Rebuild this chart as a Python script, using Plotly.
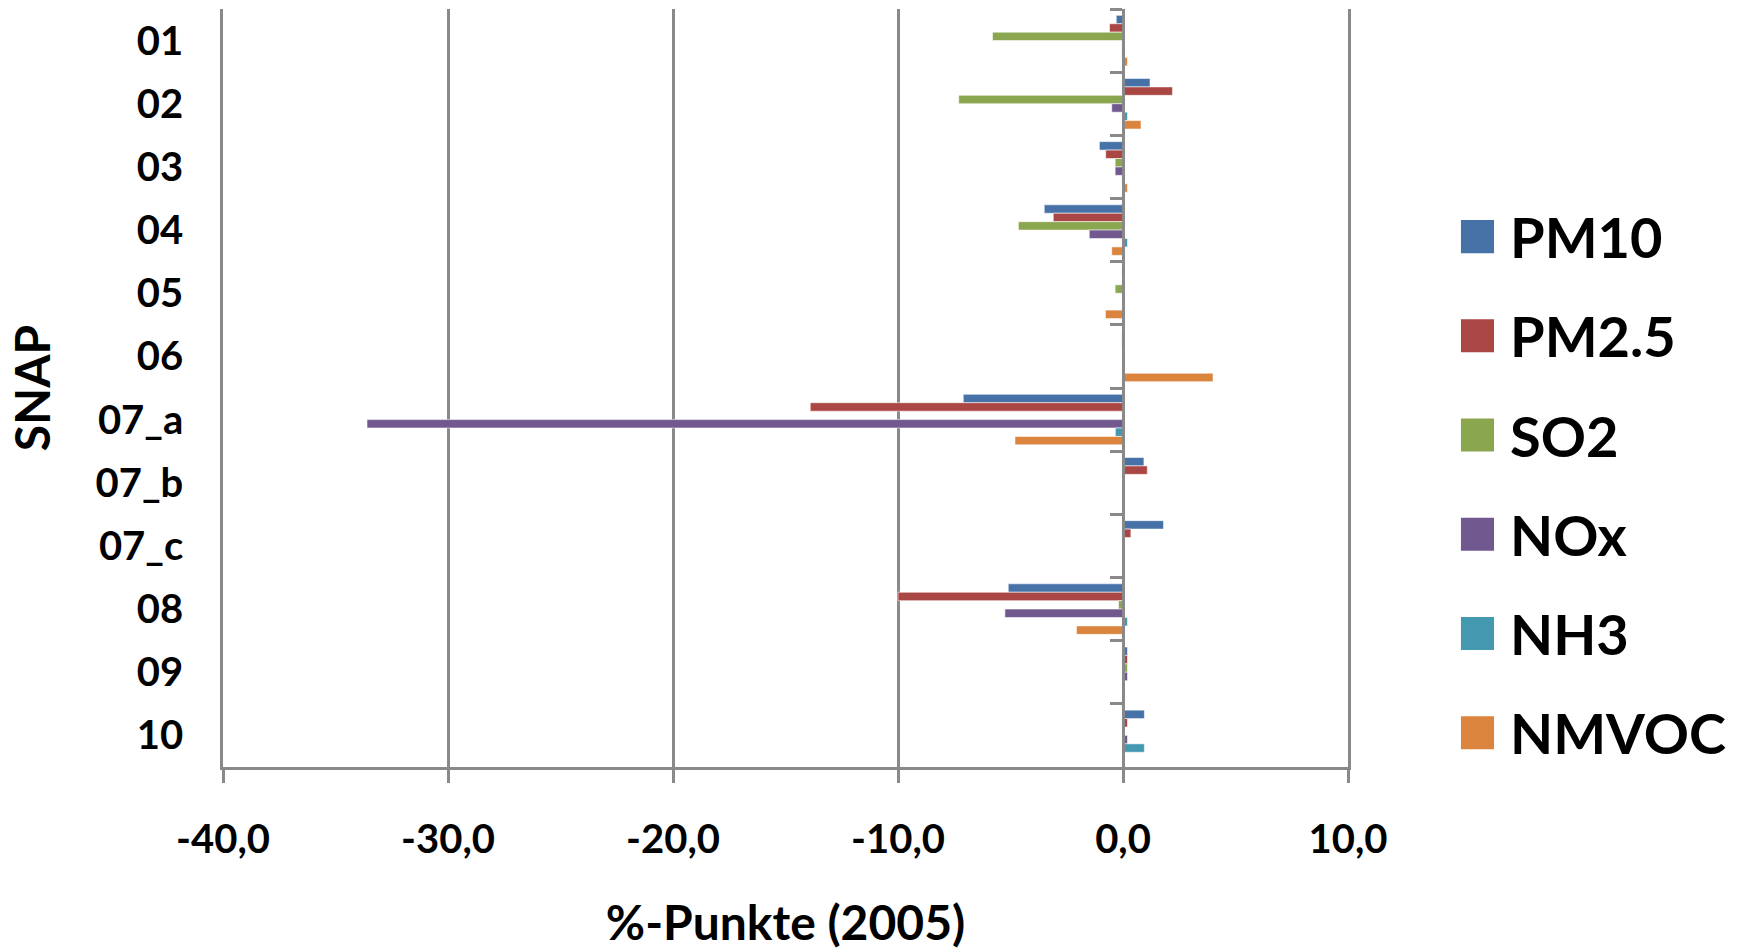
import plotly.graph_objects as go

categories = ["01", "02", "03", "04", "05", "06", "07_a", "07_b", "07_c", "08", "09", "10"]
series_names = ["PM10", "PM2.5", "SO2", "NOx", "NH3", "NMVOC"]
pm10 = [-0.3, 1.2, -1.05, -3.5, -0.05, -0.05, -7.1, 0.93, 1.8, -5.1, 0.2, 0.95]
pm25 = [-0.6, 2.2, -0.77, -3.1, -0.03, -0.05, -13.9, 1.08, 0.35, -10.0, 0.2, 0.2]
so2 = [-5.8, -7.3, -0.35, -4.65, -0.35, 0.0, 0.0, 0.0, 0.0, -0.2, 0.2, 0.0]
nox = [-0.05, -0.5, -0.35, -1.5, 0.0, 0.0, -33.6, 0.0, 0.0, -5.25, 0.2, 0.2]
nh3 = [-0.05, 0.2, -0.05, 0.2, 0.0, 0.0, -0.34, 0.0, 0.0, 0.2, 0.0, 0.95]
nmvoc = [0.2, 0.8, 0.2, -0.5, -0.78, 4.0, -4.8, 0.0, 0.0, -2.07, 0.0, 0.0]
series_values = [pm10, pm25, so2, nox, nh3, nmvoc]
colors = ["#4672A8", "#AA4644", "#8AA64F", "#71598F", "#4499B1", "#DB843D"]
x_tick_vals = [-40, -30, -20, -10, 0, 10]
x_tick_text = ["-40,0", "-30,0", "-20,0", "-10,0", "0,0", "10,0"]

FONT = "Lato"
GRID = "#898989"

fig = go.Figure()
for name, vals, col in zip(series_names, series_values, colors):
    fig.add_trace(go.Bar(
        y=categories, x=vals, name=name, orientation="h",
        marker=dict(color=col, line=dict(color="rgba(255,255,255,0.55)", width=1)),
        showlegend=False,
    ))

# invisible helper trace for the category axis drawn at x = 0
fig.add_trace(go.Scatter(
    x=[0] * len(categories), y=categories, yaxis="y2", mode="markers",
    marker=dict(opacity=0), hoverinfo="skip", showlegend=False,
))

n = len(categories)
fig.update_layout(
    width=1741, height=952,
    margin=dict(l=223, r=393, t=9, b=185),
    paper_bgcolor="white", plot_bgcolor="white",
    barmode="group", bargap=0.2, bargroupgap=0.0,
    font=dict(family=FONT, color="black"),
    xaxis=dict(
        range=[-40, 10], tickvals=x_tick_vals, ticktext=x_tick_text,
        showgrid=True, gridcolor=GRID, gridwidth=2.5, zeroline=False,
        showline=True, linecolor=GRID, linewidth=3,
        ticks="outside", ticklen=13, tickwidth=2.5, tickcolor=GRID,
        tickfont=dict(family=FONT, size=40, color="black", weight="bold"),
        ticklabelstandoff=22,
        title=dict(text="%-Punkte (2005)", standoff=46,
                   font=dict(family=FONT, size=48, color="black", weight="bold")),
    ),
    yaxis=dict(
        type="category", categoryorder="array", categoryarray=categories,
        range=[n - 0.5, -0.5], showgrid=False, zeroline=False,
        showline=True, mirror=True, linecolor=GRID, linewidth=2.5,
        ticks="", ticklabelstandoff=29,
        tickfont=dict(family=FONT, size=40, color="black", weight="bold"),
        title=dict(text="SNAP", standoff=30,
                   font=dict(family=FONT, size=48, color="black", weight="bold")),
    ),
    yaxis2=dict(
        type="category", categoryorder="array", categoryarray=categories,
        range=[n - 0.5, -0.5], overlaying="y", anchor="free", position=0.8,
        side="left", showgrid=False, zeroline=False,
        showline=True, linecolor=GRID, linewidth=3,
        ticks="outside", tickson="boundaries", ticklen=12, tickwidth=3, tickcolor=GRID,
        showticklabels=False,
    ),
)

# legend drawn as coloured squares + labels to the right of the plot
top_center = 0.6997
step = 0.1309
half = 0.0218
for i, (name, col) in enumerate(zip(series_names, colors)):
    yc = top_center - i * step
    fig.add_shape(type="rect", xref="paper", yref="paper",
                  x0=1.1004, x1=1.1298, y0=yc - half, y1=yc + half,
                  fillcolor=col, line=dict(width=0))
    fig.add_annotation(xref="paper", yref="paper", x=1.1422, y=yc,
                       xanchor="left", yanchor="middle", showarrow=False,
                       text=name,
                       font=dict(family=FONT, size=56, color="black", weight="bold"))

fig.write_html("out.html")
